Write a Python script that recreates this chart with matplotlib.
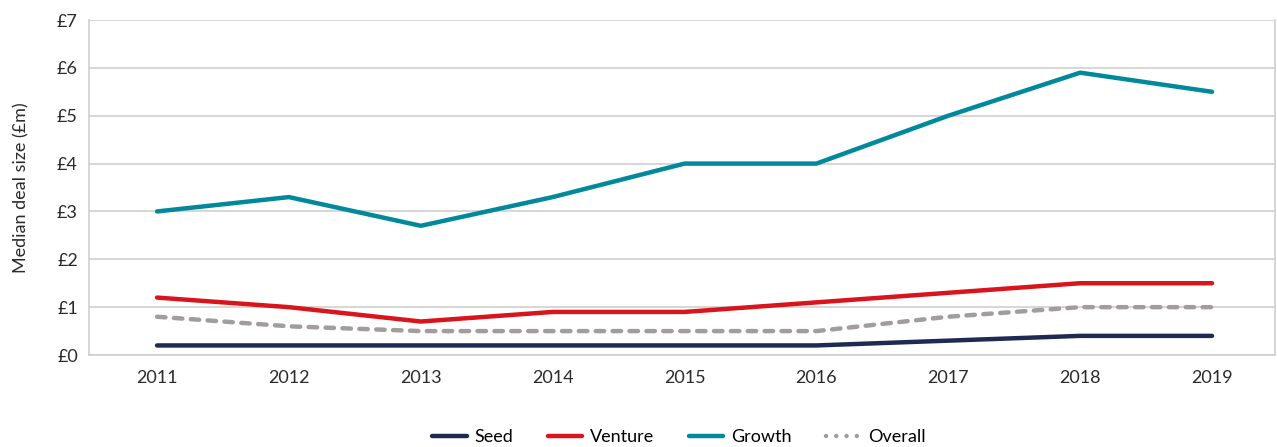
import matplotlib
matplotlib.use('Agg')
import matplotlib.pyplot as plt
from matplotlib.lines import Line2D

plt.rcParams['font.family'] = ['Lato', 'DejaVu Sans']

# 数据
years = ['2011', '2012', '2013', '2014', '2015', '2016', '2017', '2018', '2019']
seed = [0.2, 0.2, 0.2, 0.2, 0.2, 0.2, 0.3, 0.4, 0.4]
venture = [1.2, 1.0, 0.7, 0.9, 0.9, 1.1, 1.3, 1.5, 1.5]
growth = [3.0, 3.3, 2.7, 3.3, 4.0, 4.0, 5.0, 5.9, 5.5]
overall = [0.8, 0.6, 0.5, 0.5, 0.5, 0.5, 0.8, 1.0, 1.0]
y_ticks = [0, 1, 2, 3, 4, 5, 6, 7]

c_seed = '#1f2a52'
c_venture = '#d9141c'
c_growth = '#00899b'
c_overall = '#a39c9f'
c_grid = '#cfcfcf'
c_text = '#2a2a2a'

fig = plt.figure(figsize=(12.77, 4.47), dpi=100)
ax = fig.add_axes([0.0697, 0.2058, 0.929, 0.7494])

x = list(range(len(years)))
lw = 3.2
ax.plot(x, growth, color=c_growth, lw=lw, solid_capstyle='round', zorder=3)
ax.plot(x, venture, color=c_venture, lw=lw, solid_capstyle='round', zorder=3)
ax.plot(x, overall, color=c_overall, lw=lw, dashes=(1.9, 1.9),
        dash_capstyle='round', zorder=3)
ax.plot(x, seed, color=c_seed, lw=lw, solid_capstyle='round', zorder=3)

ax.set_xlim(-0.516, 8.48)
ax.set_ylim(0, 7)
ax.set_xticks(x)
ax.set_xticklabels(years)
ax.set_yticks(y_ticks)
ax.set_yticklabels([f'£{v}' for v in y_ticks])
ax.tick_params(axis='both', length=0, labelsize=13, colors=c_text)
ax.tick_params(axis='y', pad=8)
ax.tick_params(axis='x', pad=11)

ax.grid(axis='y', color=c_grid, lw=1.2)
ax.set_axisbelow(True)
for side in ['left', 'bottom', 'right']:
    ax.spines[side].set_color(c_grid)
    ax.spines[side].set_linewidth(1.2)
ax.spines['top'].set_visible(False)

ax.set_ylabel('Median deal size (£m)', fontsize=13, color=c_text, labelpad=20)

handles = [
    Line2D([0], [0], color=c_seed, lw=lw, solid_capstyle='round'),
    Line2D([0], [0], color=c_venture, lw=lw, solid_capstyle='round'),
    Line2D([0], [0], color=c_growth, lw=lw, solid_capstyle='round'),
    Line2D([0], [0], color=c_overall, lw=lw, dashes=(0.01, 2.3), dash_capstyle='round'),
]
fig.legend(handles, ['Seed', 'Venture', 'Growth', 'Overall'], loc='center',
           bbox_to_anchor=(0.532, 0.022), ncol=4, frameon=False, fontsize=13,
           handlelength=1.9, columnspacing=1.9, handletextpad=0.45)

fig.savefig('out.png', dpi=100)
